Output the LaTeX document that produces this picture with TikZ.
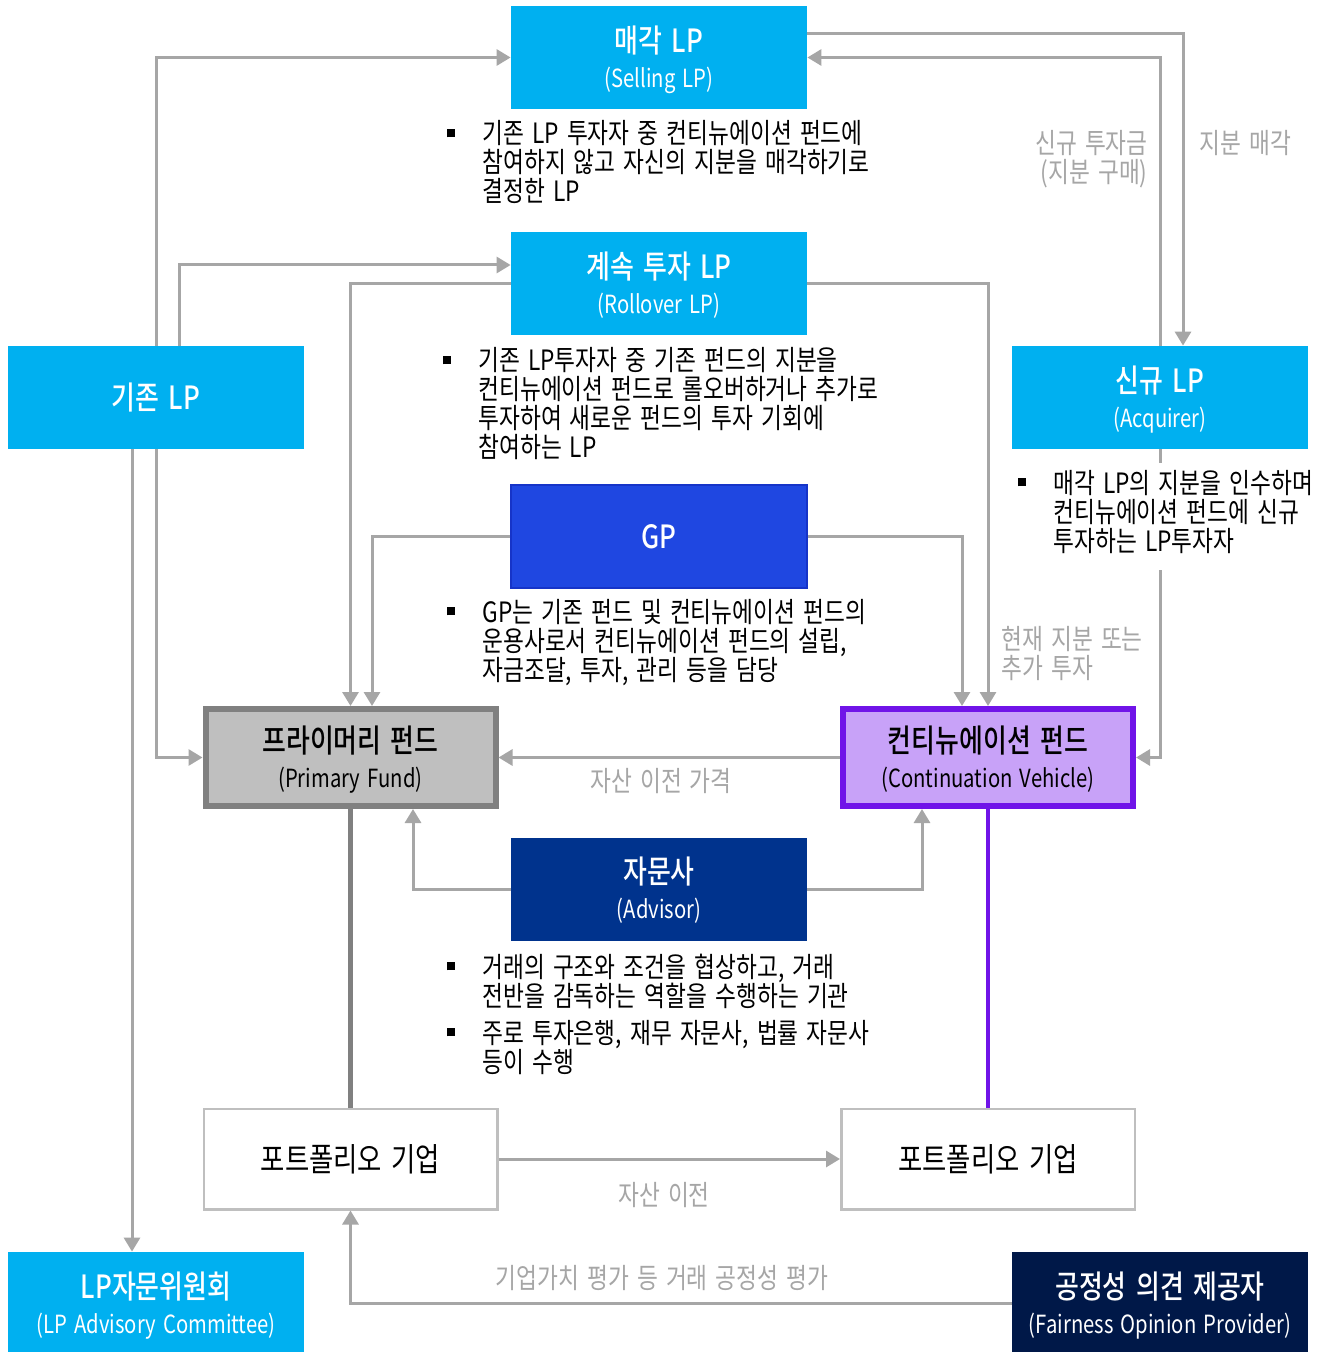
\documentclass[tikz,border=0pt]{standalone}
\usepackage{fontspec}
\setmainfont{Noto Sans CJK KR}[FakeStretch=0.81, WordSpace=1.6, BoldFont={Noto Sans CJK KR Medium}]
\usetikzlibrary{arrows.meta}

\definecolor{lpcyan}{RGB}{0,176,240}
\definecolor{gpblue}{RGB}{31,71,225}
\definecolor{gpedge}{RGB}{22,52,200}
\definecolor{advnavy}{RGB}{0,51,141}
\definecolor{fopnavy}{RGB}{0,24,72}
\definecolor{pfgray}{RGB}{191,191,191}
\definecolor{pfedge}{RGB}{128,128,128}
\definecolor{cvfill}{RGB}{200,162,248}
\definecolor{cvedge}{RGB}{112,20,232}
\definecolor{linegray}{RGB}{166,166,166}
\definecolor{pcedge}{RGB}{191,191,191}

\newcommand{\ttl}{\fontsize{16pt}{19pt}\selectfont\bfseries}
\newcommand{\subtxt}{\fontsize{12.5pt}{14pt}\selectfont}
\newcommand{\bodytxt}{\fontsize{14pt}{14.5pt}\selectfont}
\newcommand{\blt}{\rule[3.3pt]{4pt}{4pt}}
\newcommand{\twoline}[2]{\begin{tabular}[t]{@{}c@{}}{\ttl #1}\\{\subtxt #2}\end{tabular}}

\tikzset{
	lp/.style={rectangle, fill=lpcyan, text=white, inner sep=0pt, minimum width=148pt, minimum height=51.5pt},
	twol/.style={font=\fontsize{12pt}{17.6pt}\selectfont, text height=17.4pt},
	fund/.style={rectangle, line width=3pt, inner sep=0pt, minimum width=145pt, minimum height=48.5pt},
	portco/.style={rectangle, draw=pcedge, line width=1.25pt, fill=white, inner sep=0pt, minimum width=146.75pt, minimum height=50.25pt, font=\fontsize{16.3pt}{19pt}\selectfont},
	note/.style={anchor=base west, inner xsep=0pt, inner ysep=0pt, font=\bodytxt},
	flow/.style={draw=linegray, line width=1.5pt, -{Triangle[length=7pt,width=8pt]}},
	tag/.style={text=linegray, inner sep=0pt, font=\fontsize{14pt}{14.5pt}\selectfont},
}

\begin{document}
\begin{tikzpicture}[x=0.5pt, y=-0.5pt]
			%%%%% START %%%%%
			\useasboundingbox (0,0) rectangle (1326,1352);
			\fill[white] (0,0) rectangle (1326,1352);

			\node[lp, twol] (sell) at (659,57.5) {\twoline{매각 LP}{(Selling LP)}};
			\node[lp, twol] (roll) at (659,283.5) {\twoline{계속 투자 LP}{(Rollover LP)}};
			\node[lp, font=\ttl] (exist) at (156,397.5) {기존 LP};
			\node[lp, twol] (acq) at (1160,397.5) {\twoline{신규 LP}{(Acquirer)}};
			\node[lp, fill=gpblue, draw=gpedge, line width=1pt, font=\ttl] (gp) at (659,536.5) {GP};

			\node[fund, draw=pfedge, fill=pfgray, twol] (pf) at (350.5,757.5) {\twoline{프라이머리 펀드}{(Primary Fund)}};
			\node[fund, draw=cvedge, fill=cvfill, twol] (cv) at (988,757.5) {\twoline{컨티뉴에이션 펀드}{(Continuation Vehicle)}};
			\node[lp, fill=advnavy, twol] (adv) at (659,889) {\twoline{자문사}{(Advisor)}};

			\node[portco] (pcl) at (350.5,1159) {포트폴리오 기업};
			\node[portco] (pcr) at (988,1159) {포트폴리오 기업};
			\node[lp, twol] (lpac) at (156,1303.5) {\twoline{LP자문위원회}{(LP Advisory Committee)}};
			\node[lp, fill=fopnavy, twol] (fop) at (1160,1303.5) {\twoline{공정성 의견 제공자}{(Fairness Opinion Provider)}};

			% existing LPs
			\draw[flow] (exist.north) |- (sell.west);
			\draw[flow] ([xshift=11.5pt]exist.north) |- ([yshift=9.25pt]roll.west);
			\draw[flow] (exist.south) |- (pf.west);
			\draw[flow] ([xshift=-12pt]exist.south) -- ([xshift=-12pt]lpac.north);

			% sale of stake / new money
			\draw[flow] ([yshift=11.75pt]sell.east) -| ([xshift=11.5pt]acq.north);
			\draw[flow] (acq.north) |- (sell.east);
			\draw[flow] (acq.south) |- (cv.east);

			\draw[flow] (roll.west) -| (pf.north);
			\draw[flow] (roll.east) -| (cv.north);
			\draw[flow] (gp.west) -| ([xshift=10.75pt]pf.north);
			\draw[flow] (gp.east) -| ([xshift=-13pt]cv.north);
			\draw[flow] (cv.west) -- (pf.east);
			\draw[flow] (adv.west) -| ([xshift=31.25pt]pf.south);
			\draw[flow] (adv.east) -| ([xshift=-33pt]cv.south);

			\draw[draw=pfedge, line width=2.5pt] (pf.south) -- (pcl.north);
			\draw[draw=cvedge, line width=2pt] (cv.south) -- (pcr.north);
			\draw[flow] (pcl.east) -- (pcr.west);
			\draw[flow] (fop.west) -| (pcl.south);

			% labels on the flows
			\node[tag, anchor=west] (tsale) at (1199,143) {지분 매각};
			\node[tag, anchor=east, align=right] (tnew) at (1148,159.5) {신규 투자금\\(지분 구매)};
			\node[tag, anchor=west, align=left] (troll) at (1001,654) {현재 지분 또는\\추가 투자};
			\node[tag] (tprice) at (661,781) {자산 이전 가격};
			\node[tag] (tmove) at (664,1195) {자산 이전};
			\node[tag] (tfair) at (662,1278) {기업가치 평가 등 거래 공정성 평가};

			% notes
			\node[note] (nsell) at (447,144) {\begin{tabular}[t]{@{}l@{\hspace{13.5pt}}l@{}}
				\blt & \smash{기존 LP 투자자 중 컨티뉴에이션 펀드에}\\
				& \smash{참여하지 않고 자신의 지분을 매각하기로}\\
				& \smash{결정한 LP}
			\end{tabular}};
			\node[note] (nroll) at (443,371) {\begin{tabular}[t]{@{}l@{\hspace{13.5pt}}l@{}}
				\blt & \smash{기존 LP투자자 중 기존 펀드의 지분을}\\
				& \smash{컨티뉴에이션 펀드로 롤오버하거나 추가로}\\
				& \smash{투자하여 새로운 펀드의 투자 기회에}\\
				& \smash{참여하는 LP}
			\end{tabular}};
			\node[note, fill=white, inner ysep=5pt] (nacq) at (1018,493) {\begin{tabular}[t]{@{}l@{\hspace{13.5pt}}l@{}}
				\blt & \smash{매각 LP의 지분을 인수하며}\\
				& \smash{컨티뉴에이션 펀드에 신규}\\
				& \smash{투자하는 LP투자자}
			\end{tabular}};
			\node[note] (ngp) at (447,622) {\begin{tabular}[t]{@{}l@{\hspace{13.5pt}}l@{}}
				\blt & \smash{GP는 기존 펀드 및 컨티뉴에이션 펀드의}\\
				& \smash{운용사로서 컨티뉴에이션 펀드의 설립,}\\
				& \smash{자금조달, 투자, 관리 등을 담당}
			\end{tabular}};
			\node[note] (nadv) at (447,977) {\begin{tabular}[t]{@{}l@{\hspace{13.5pt}}l@{}}
				\blt & \smash{거래의 구조와 조건을 협상하고, 거래}\\
				& \smash{전반을 감독하는 역할을 수행하는 기관}\\[4pt]
				\blt & \smash{주로 투자은행, 재무 자문사, 법률 자문사}\\
				& \smash{등이 수행}
			\end{tabular}};
			%%%%% END %%%%%
\end{tikzpicture}
\end{document}
